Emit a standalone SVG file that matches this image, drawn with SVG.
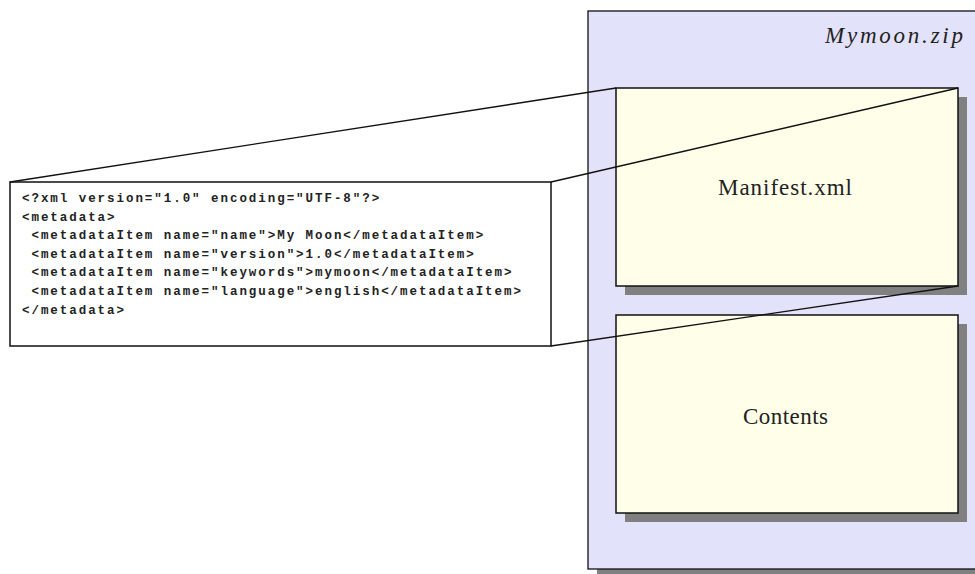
<svg xmlns="http://www.w3.org/2000/svg" width="975" height="574" viewBox="0 0 975 574">
  <style>
    .shadow { fill: #808080; }
    .outer { fill: #e2e2fa; stroke: #111; stroke-width: 1.3; }
    .file { fill: #ffffe9; stroke: #111; stroke-width: 1.5; }
    .code { fill: #fff; stroke: #111; stroke-width: 1.5; }
    .conn { stroke: #111; stroke-width: 1.4; fill: none; }
    .lbl { font-family: "Liberation Serif", "DejaVu Serif", serif; font-size: 23px; fill: #222; }
    .mono { font-family: "Liberation Mono", "DejaVu Sans Mono", monospace; font-size: 12.5px; font-weight: bold; fill: #222; letter-spacing: 1.95px; white-space: pre; }
  </style>
  <rect width="975" height="574" fill="#fff"/>
  <g id="zip">
    <rect class="shadow" x="597" y="20" width="390" height="560"/>
    <rect class="outer" x="588" y="11" width="395" height="558"/>
    <text class="lbl" x="963" y="43" text-anchor="end" font-style="italic" textLength="138" lengthAdjust="spacing">Mymoon.zip</text>
  </g>
  <g id="manifest">
    <rect class="shadow" x="625" y="97" width="342" height="198"/>
    <rect class="file" x="616" y="88" width="342" height="198"/>
    <text class="lbl" x="718" y="195" textLength="134" lengthAdjust="spacing">Manifest.xml</text>
  </g>
  <g id="contents">
    <rect class="shadow" x="625" y="324" width="342" height="198"/>
    <rect class="file" x="616" y="315" width="342" height="198"/>
    <text class="lbl" x="743" y="424" textLength="85" lengthAdjust="spacing">Contents</text>
  </g>
  <g id="code">
    <rect class="code" x="10" y="182" width="541" height="164"/>
    <text class="mono" x="22" y="202">&lt;?xml version="1.0" encoding="UTF-8"?&gt;</text>
    <text class="mono" x="22" y="220.6">&lt;metadata&gt;</text>
    <text class="mono" x="22" y="239.2"> &lt;metadataItem name="name"&gt;My Moon&lt;/metadataItem&gt;</text>
    <text class="mono" x="22" y="257.8"> &lt;metadataItem name="version"&gt;1.0&lt;/metadataItem&gt;</text>
    <text class="mono" x="22" y="276.4"> &lt;metadataItem name="keywords"&gt;mymoon&lt;/metadataItem&gt;</text>
    <text class="mono" x="22" y="295"> &lt;metadataItem name="language"&gt;english&lt;/metadataItem&gt;</text>
    <text class="mono" x="22" y="313.6">&lt;/metadata&gt;</text>
  </g>
  <g id="connectors">
    <line class="conn" x1="10" y1="182" x2="616" y2="88"/>
    <line class="conn" x1="551" y1="182" x2="958" y2="88"/>
    <line class="conn" x1="551" y1="346" x2="958" y2="286"/>
  </g>
</svg>
